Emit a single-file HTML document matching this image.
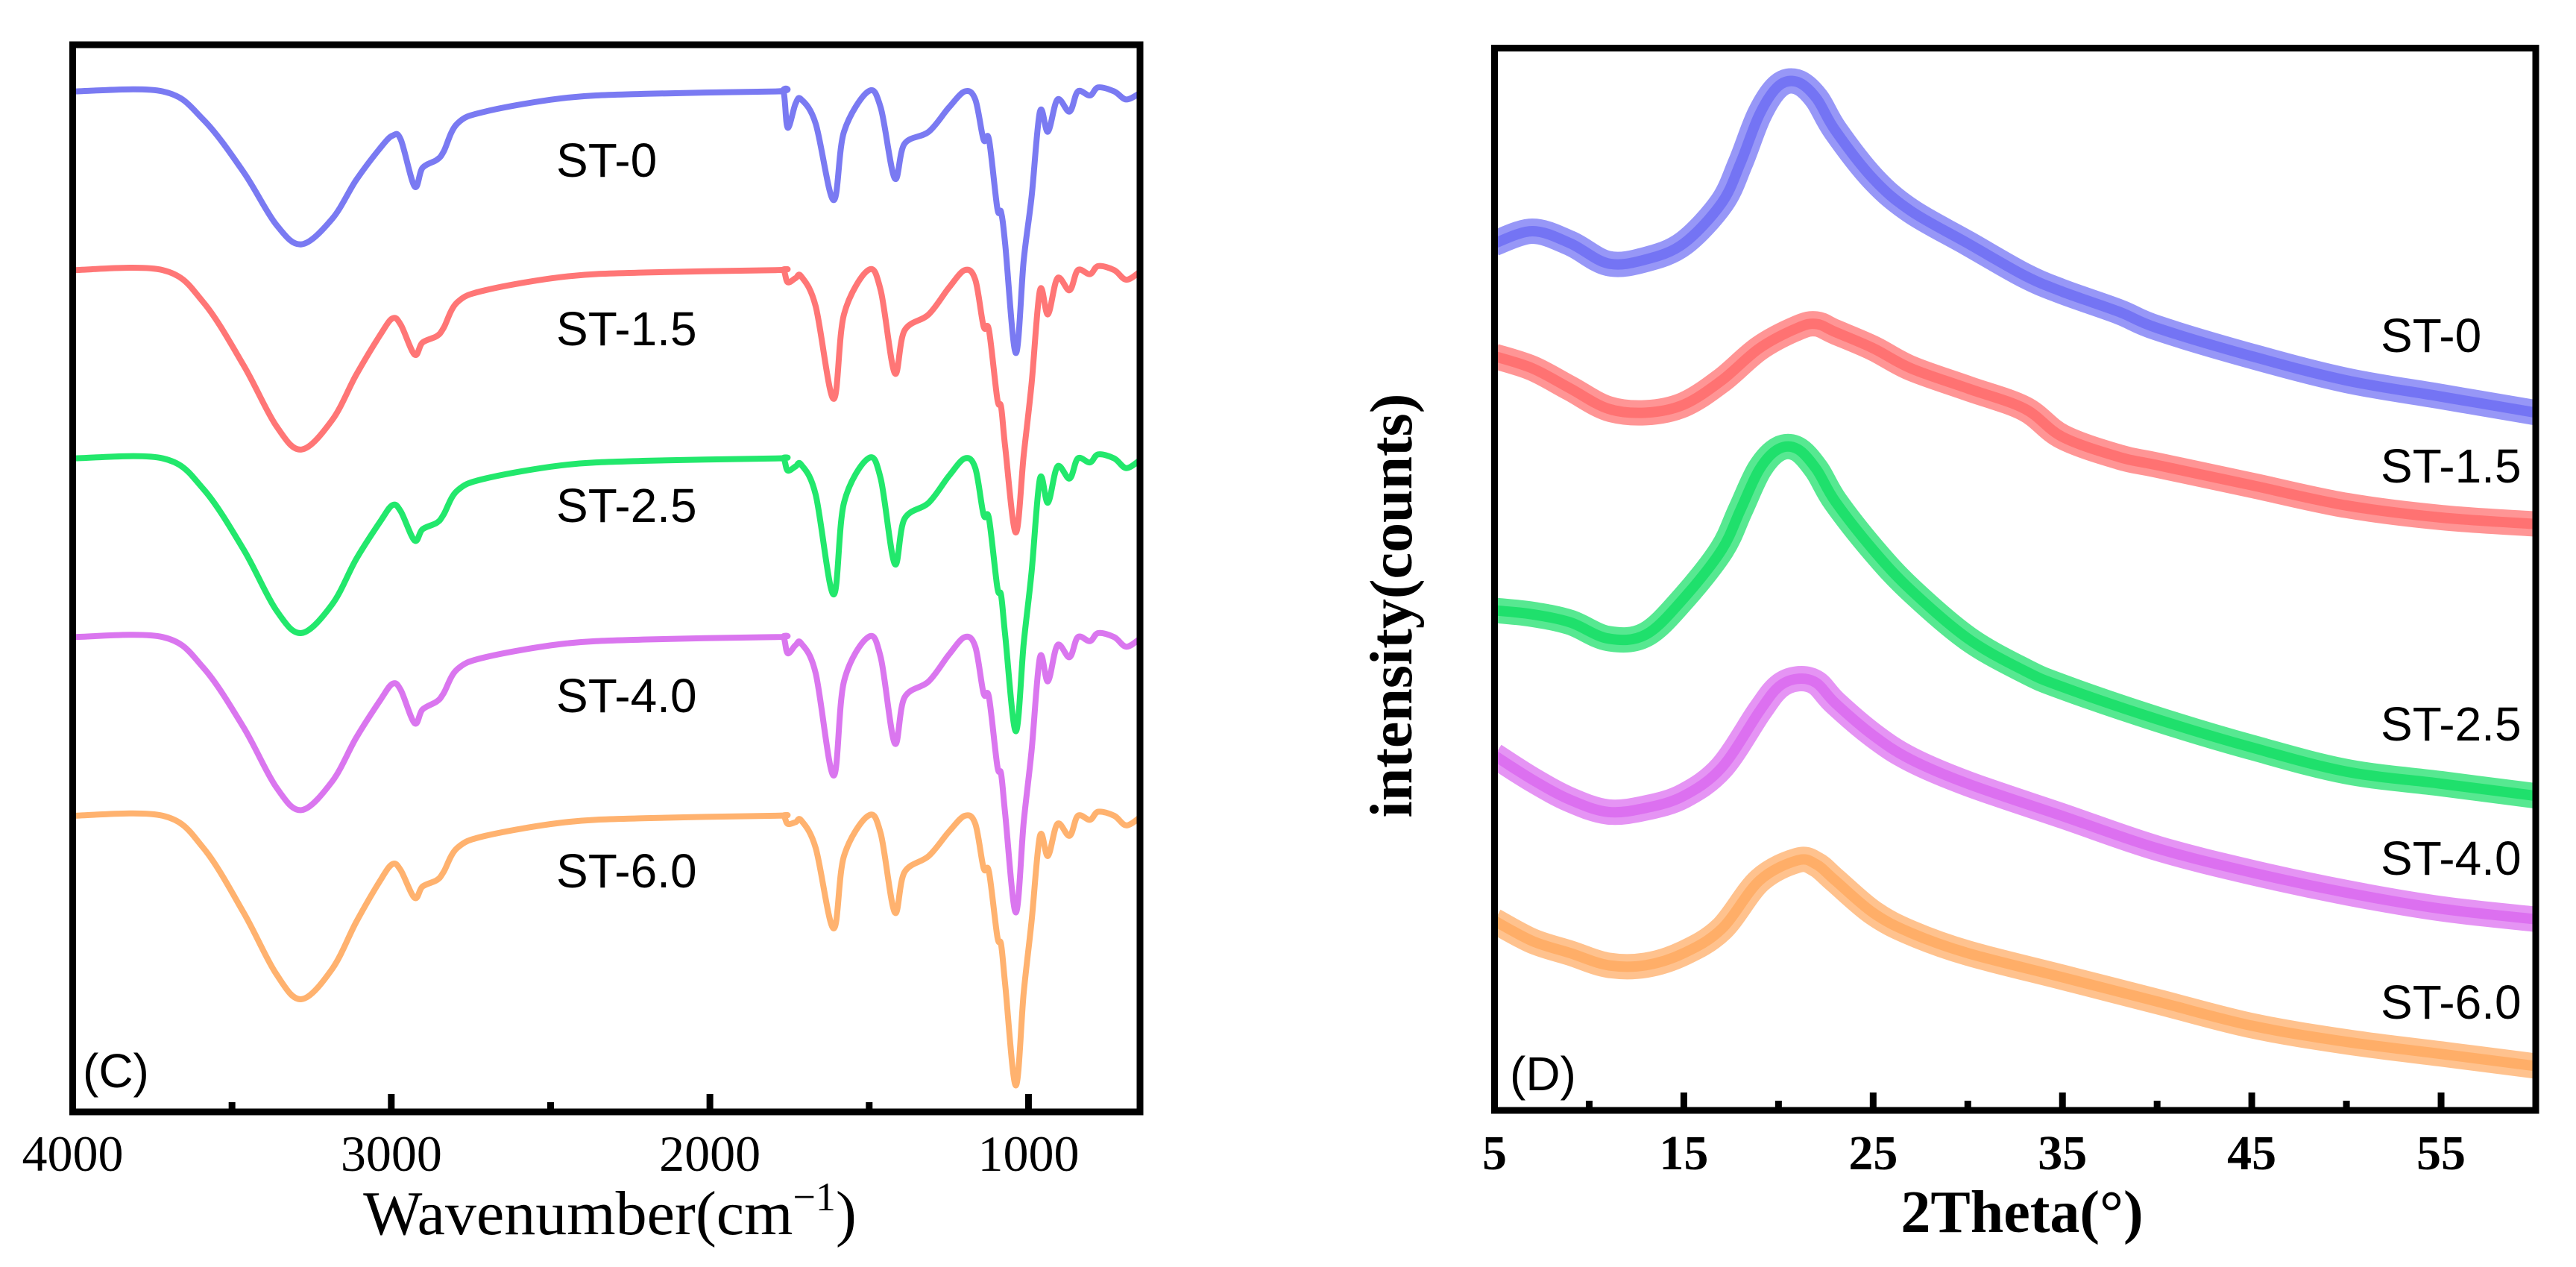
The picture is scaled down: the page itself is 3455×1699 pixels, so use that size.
<!DOCTYPE html>
<html><head><meta charset="utf-8">
<style>
html,body{margin:0;padding:0;background:#fff;}
svg{display:block;}
.tk{font-family:"Liberation Serif",serif;font-size:68px;fill:#000;}
.tkb{font-family:"Liberation Serif",serif;font-size:66px;font-weight:bold;fill:#000;}
.lab{font-family:"Liberation Sans",sans-serif;font-size:64px;fill:#000;}
</style></head>
<body>
<svg id="fig" width="3455" height="1699" viewBox="0 0 3455 1699" xmlns="http://www.w3.org/2000/svg">
<g id="left"></g>
<g id="right"></g>
</svg>
<script>
// ---------- FTIR data (panel C) ----------
const irWavenumbers=[4000,3717,3590,3464,3362,3282,3185,3110,3034,2996,2970,2927,2902,2857,2836,2793,2705,2452,2199,1794,1769,1756,1731,1713,1668,1612,1579,1503,1464,1420,1389,1313,1250,1200,1167,1141,1124,1098,1086,1073,1040,1015,990,964,939,909,871,845,807,781,731,693,650];
const irNames=["ST-0","ST-1.5","ST-2.5","ST-4.0","ST-6.0"];
const irOffsets=[0,-222,-456,-678,-900];
const irST0=[0,0,35,100,165,190,158,110,70,55,60,118,95,85,75,40,25,8,3,0,0,45,15,10,40,135,50,0,20,108,65,50,20,0,10,60,60,145,150,190,325,210,130,25,50,10,25,0,5,-5,0,10,2];
const irST15=[0,0,40,118,193,223,186,130,80,60,68,105,90,82,72,40,25,8,3,0,0,15,10,8,45,160,55,0,25,128,75,55,22,0,12,70,75,160,170,220,326,230,140,25,55,10,25,0,5,-5,0,12,2];
const irST25=[0,0,38,113,188,217,181,125,78,58,66,102,88,80,70,40,25,8,3,0,0,15,10,8,45,169,55,0,25,131,75,55,22,0,12,70,75,160,170,220,339,230,140,25,55,10,25,0,5,-5,0,12,2];
const irST40=[0,0,38,112,186,215,179,125,78,58,66,107,90,80,70,40,25,8,3,0,0,20,10,8,45,172,55,0,25,132,75,55,22,0,12,70,75,160,170,220,342,230,140,25,55,10,25,0,5,-5,0,12,2];
const irST60=[0,0,40,120,196,228,190,132,80,60,68,102,88,80,70,40,25,8,3,0,0,10,8,6,40,140,50,0,22,120,70,50,20,0,10,65,70,150,160,210,335,220,130,25,50,10,25,0,5,-5,0,12,2];
const irTickLabels=["4000","3000","2000","1000"];
const irMajorTicks=[4000,3000,2000,1000];
const irMinorTicks=[3500,2500,1500];

// ---------- XRD data (panel D) ----------
const xrdNames=["ST-0","ST-1.5","ST-2.5","ST-4.0","ST-6.0"];
const xrdX0=[5,7,9,11,13,15,17,18,19,20,21,22,23,25,27,30,33,35,38,40,45,50,55,60];
const xrdY0=[1075,1090,1075,1050,1055,1075,1125,1175,1235,1270,1275,1255,1215,1155,1115,1075,1035,1015,990,970,935,905,885,865];
const xrdX1=[5,7,9,11,13,15,17,19,21,22,23,25,27,30,33,35,38,40,45,50,55,60];
const xrdY1=[935,920,895,870,865,875,905,945,970,975,965,945,920,895,870,835,810,800,775,750,735,727];
const xrdX2=[5,7,9,11,13,15,17,18,19,20,21,22,23,25,27,30,33,35,40,45,50,55,60];
const xrdY2=[620,615,605,585,590,635,695,745,795,820,820,795,755,695,645,585,545,525,485,450,420,405,390];
const xrdX3=[5,7,9,11,13,15,17,19,20,21,22,23,25,27,30,35,40,45,50,55,60];
const xrdY3=[440,410,385,370,375,390,425,495,525,535,530,505,465,435,405,365,325,295,270,250,237];
const xrdX4=[5,7,9,11,13,15,17,19,21,22,23,25,27,30,35,40,45,50,55,60];
const xrdY4=[235,210,195,180,180,195,225,285,310,305,285,245,220,195,165,135,105,85,70,55];
const xrdTickLabels=["5","15","25","35","45","55"];
const xrdMajorTicks=[5,15,25,35,45,55];
const xrdMinorTicks=[10,20,30,40,50,60];

const NS="http://www.w3.org/2000/svg";
function mk(parent,tag,attrs){const e=document.createElementNS(NS,tag);for(const k in attrs)e.setAttribute(k,attrs[k]);parent.appendChild(e);return e;}
function smoothPath(pts){
  let d="M"+pts[0][0].toFixed(1)+","+pts[0][1].toFixed(1);
  for(let i=0;i<pts.length-1;i++){
    const p0=pts[i-1]||pts[i],p1=pts[i],p2=pts[i+1],p3=pts[i+2]||p2;
    const c1x=p1[0]+(p2[0]-p0[0])/6,c1y=p1[1]+(p2[1]-p0[1])/6;
    const c2x=p2[0]-(p3[0]-p1[0])/6,c2y=p2[1]-(p3[1]-p1[1])/6;
    d+=" C"+c1x.toFixed(1)+","+c1y.toFixed(1)+" "+c2x.toFixed(1)+","+c2y.toFixed(1)+" "+p2[0].toFixed(1)+","+p2[1].toFixed(1);
  }
  return d;
}

// ---------- Panel C ----------
const L=document.getElementById('left');
const cL=97.5,cR=1529,cT=60,cB=1491;
const irX=w=>cL+(4000-w)/(4000-650)*(cR-cL);
const irY=v=>cT+(58-v)/1326*(cB-cT);
const irSeries=[irST0,irST15,irST25,irST40,irST60];
const irColors=["#7a7af2","#ff7676","#22e86c","#da76ef","#ffb26f"];
const irLabelPos=[[746,237],[746,463],[746,700],[746,955],[746,1190]];
irSeries.forEach((s,i)=>{
  const pts=irWavenumbers.map((w,j)=>[irX(w),irY(irOffsets[i]-s[j])]);
  const p=mk(L,'path',{d:smoothPath(pts),fill:'none',stroke:irColors[i],'stroke-width':8,'stroke-linejoin':'round','stroke-linecap':'round'});
  
  
  const t=mk(L,'text',{x:irLabelPos[i][0],y:irLabelPos[i][1],class:'lab'});
  t.textContent=irNames[i];
  
  
});
irMajorTicks.forEach((w,i)=>{
  const tk=mk(L,'line',{x1:irX(w),x2:irX(w),y1:cB,y2:cB-24,stroke:'#000','stroke-width':9});
  
  
  const t=mk(L,'text',{x:irX(w),y:1570,class:'tk','text-anchor':'middle'});
  t.textContent=irTickLabels[i];
  
  
});
irMinorTicks.forEach(w=>{
  const tk=mk(L,'line',{x1:irX(w),x2:irX(w),y1:cB,y2:cB-13,stroke:'#000','stroke-width':9});
  
  
});
const fL=mk(L,'rect',{x:cL,y:cT,width:cR-cL,height:cB-cT,fill:'none',stroke:'#000','stroke-width':9});


const cTag=mk(L,'text',{x:111,y:1458,class:'lab','font-size':'70'});
cTag.textContent='(C)';


const xtL=mk(L,'text',{x:818,y:1655,'text-anchor':'middle','font-family':'Liberation Serif, serif','font-size':'84'});
xtL.innerHTML='Wavenumber(cm<tspan font-size="54" dy="-32">−1</tspan><tspan dy="32">)</tspan>';



// ---------- Panel D ----------
const R=document.getElementById('right');
const dL=2004.5,dR=3401,dT=64.5,dB=1489;
const xrdXs=v=>dL+(v-5)/55*(dR-dL);
const xrdYs=v=>dB-v/1317*(dB-dT);
const xrdXSeries=[xrdX0,xrdX1,xrdX2,xrdX3,xrdX4];
const xrdYSeries=[xrdY0,xrdY1,xrdY2,xrdY3,xrdY4];
const xrdColors=["#7474f4","#ff7272","#1fe06c","#dc70f0","#ffae68"];
const xrdLabelPos=[[3193,472],[3193,647],[3193,993],[3193,1173],[3193,1366]];
const clip=mk(R,'clipPath',{id:'dclip'});
mk(clip,'rect',{x:dL,y:dT,width:dR-dL,height:dB-dT});
xrdXSeries.forEach((xs,i)=>{
  const pts=xs.map((x,j)=>[xrdXs(x),xrdYs(xrdYSeries[i][j])]);
  const band=mk(R,'path',{d:smoothPath(pts),fill:'none',stroke:xrdColors[i],'stroke-width':34,'stroke-opacity':0.75,'stroke-linejoin':'round','clip-path':'url(#dclip)'});
  
  
  const core=mk(R,'path',{d:smoothPath(pts),fill:'none',stroke:xrdColors[i],'stroke-width':14,'stroke-linejoin':'round','clip-path':'url(#dclip)'});
  
  
  const t=mk(R,'text',{x:xrdLabelPos[i][0],y:xrdLabelPos[i][1],class:'lab'});
  t.textContent=xrdNames[i];
  
  
});
xrdMajorTicks.forEach((v,i)=>{
  const tk=mk(R,'line',{x1:xrdXs(v),x2:xrdXs(v),y1:dB,y2:dB-24,stroke:'#000','stroke-width':9});
  
  
  const t=mk(R,'text',{x:xrdXs(v),y:1568,class:'tkb','text-anchor':'middle'});
  t.textContent=xrdTickLabels[i];
  
  
});
xrdMinorTicks.forEach(v=>{
  const tk=mk(R,'line',{x1:xrdXs(v),x2:xrdXs(v),y1:dB,y2:dB-13,stroke:'#000','stroke-width':9});
  
  
});
const fR=mk(R,'rect',{x:dL,y:dT,width:dR-dL,height:dB-dT,fill:'none',stroke:'#000','stroke-width':9});


const dTag=mk(R,'text',{x:2025,y:1462,class:'lab','font-size':'70'});
dTag.textContent='(D)';


const xtR=mk(R,'text',{x:2712,y:1652,'text-anchor':'middle','font-family':'Liberation Serif, serif','font-size':'80','font-weight':'bold'});
xtR.textContent='2Theta(°)';


const ytR=mk(R,'text',{x:0,y:0,'text-anchor':'middle','font-family':'Liberation Serif, serif','font-size':'80','font-weight':'bold',transform:'translate(1893,812) rotate(-90)'});
ytR.textContent='intensity(counts)';


</script>
</body></html>
